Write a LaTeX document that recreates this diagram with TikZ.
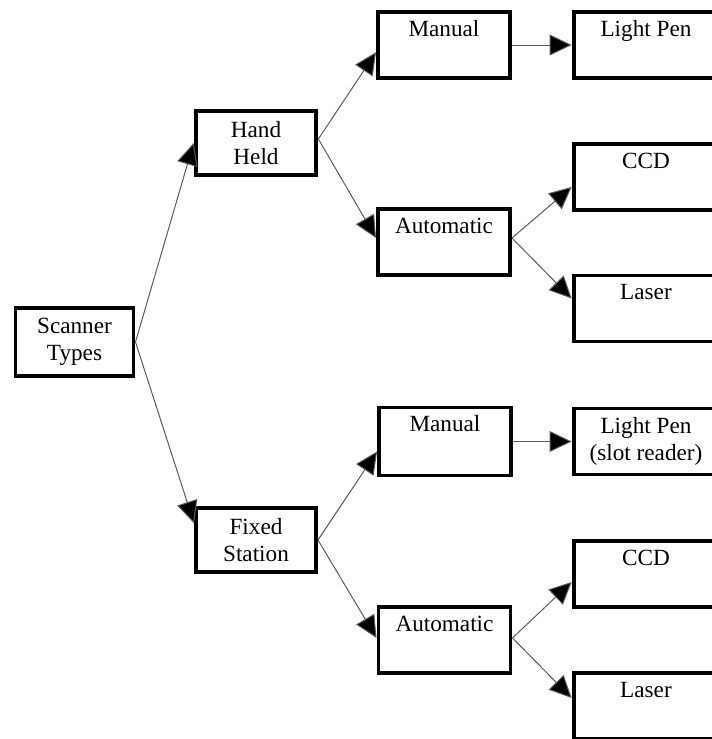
\documentclass[tikz,border=0pt]{standalone}
\usepackage{fontspec}
\setmainfont{Liberation Serif}
\usetikzlibrary{arrows.meta}

\tikzset{
  box/.style = {draw, rectangle, line width=2.8pt, inner sep=0pt, align=center,
                font=\fontsize{16.5}{19.5}\selectfont},
  topbox/.style = {box, text height=0.6cm, text depth=1.05cm},
  link/.style = {->, line width=0.7pt, draw=black!65}
}

\begin{document}
\begin{tikzpicture}[x = 0.025cm, y = -0.025cm,
    >= {Triangle[length=0.55cm, width=0.52cm, fill=black]}]
          \clip (0,0) rectangle (712,739);
          \node[box, minimum width=2.95cm, minimum height=1.68cm] (scanner) at (74.5,342) {Scanner\\Types};
          \node[box, minimum width=3.02cm, minimum height=1.58cm] (hand) at (256,143) {Hand\\Held};
          \node[box, minimum width=3.0cm, minimum height=1.58cm] (fixed) at (256,540) {Fixed\\Station};
          % hand held branch
          \node[topbox, minimum width=3.3cm] (manA) at (444,45) {Manual};
          \node[topbox, minimum width=3.3cm] (autoA) at (444,242) {Automatic};
          \node[topbox, minimum width=3.62cm] (penA) at (646,45) {Light Pen};
          \node[topbox, minimum width=3.62cm] (ccdA) at (646,177) {CCD};
          \node[topbox, minimum width=3.62cm] (laserA) at (646,308.5) {Laser};
          % fixed station branch
          \node[topbox, minimum width=3.3cm, text depth=1.1cm] (manB) at (445,441.5) {Manual};
          \node[topbox, minimum width=3.3cm] (autoB) at (444.5,640) {Automatic};
          \node[box, minimum width=3.62cm, minimum height=1.65cm] (penB) at (646,441.5) {Light Pen\\(slot reader)};
          \node[topbox, minimum width=3.62cm] (ccdB) at (646,574) {CCD};
          \node[topbox, minimum width=3.62cm] (laserB) at (646,706) {Laser};

          \draw[link] (scanner.east) -- (hand.west);
          \draw[link] (scanner.east) -- ([yshift=0.42cm]fixed.west);
          \draw[link] ([yshift=0.1cm]hand.east) -- ([yshift=-0.18cm]manA.west);
          \draw[link] ([yshift=0.1cm]hand.east) -- ([yshift=0.1cm]autoA.west);
          \draw[link] (manA.east) -- (penA.west);
          \draw[link] ([yshift=0.1cm]autoA.east) -- ([yshift=-0.25cm]ccdA.west);
          \draw[link] ([yshift=0.1cm]autoA.east) -- ([yshift=0.25cm]laserA.west);
          \draw[link] (fixed.east) -- ([yshift=-0.25cm]manB.west);
          \draw[link] (fixed.east) -- ([yshift=0.05cm]autoB.west);
          \draw[link] (manB.east) -- (penB.west);
          \draw[link] ([yshift=0.05cm]autoB.east) -- ([yshift=-0.2cm]ccdB.west);
          \draw[link] ([yshift=0.05cm]autoB.east) -- ([yshift=0.2cm]laserB.west);
        \end{tikzpicture}
\end{document}
